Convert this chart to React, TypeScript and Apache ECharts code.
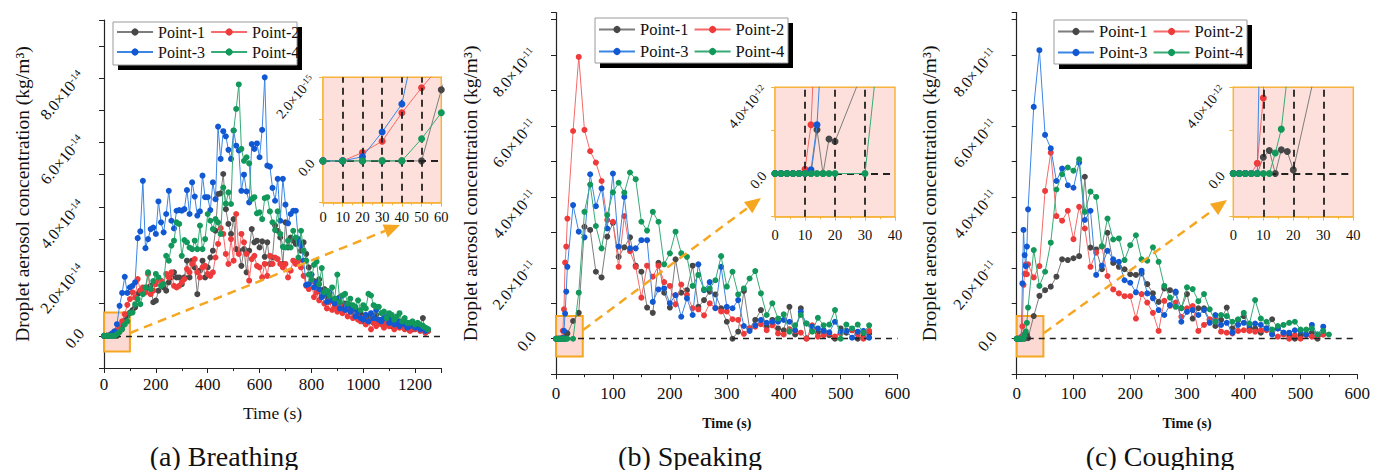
import React, { useEffect, useRef } from 'react';
import * as echarts from 'echarts';

const SERIF = 'Liberation Serif, Times New Roman, serif';
const SERIES_NAMES = ['Point-1', 'Point-2', 'Point-3', 'Point-4'];
const MARKER_COLORS = ['#474747', '#ee3a3a', '#1158d2', '#11985a'];
const LINE_COLORS = ['#7d7d7d', '#f56a6a', '#3b86e4', '#36ab76'];
const ORANGE = '#f6a722';
const BORDER = '#f7b43c';
const PINK = '#fde0db';

// (a) Breathing, time (s), values in 1e-14 kg/m3
const TIME_A = [
  0, 10, 20, 30, 40, 50, 60, 70, 80, 90,
  100, 110, 120, 130, 140, 150, 160, 170, 180, 190,
  200, 210, 220, 230, 240, 250, 260, 270, 280, 290,
  300, 310, 320, 330, 340, 350, 360, 370, 380, 390,
  400, 410, 420, 430, 440, 450, 460, 470, 480, 490,
  500, 510, 520, 530, 540, 550, 560, 570, 580, 590,
  600, 610, 620, 630, 640, 650, 660, 670, 680, 690,
  700, 710, 720, 730, 740, 750, 760, 770, 780, 790,
  800, 810, 820, 830, 840, 850, 860, 870, 880, 890,
  900, 910, 920, 930, 940, 950, 960, 970, 980, 990,
  1000, 1010, 1020, 1030, 1040, 1050, 1060, 1070, 1080, 1090,
  1100, 1110, 1120, 1130, 1140, 1150, 1160, 1170, 1180, 1190,
  1200, 1210, 1220, 1230, 1240, 1250,
];
const A_P1 = [
  0, 0, 0, 0, 0, 0, 0.17, 0.3, 0.47, 0.62,
  0.72, 0.8, 0.88, 1.3, 1.4, 1.35, 1.4, 1.5, 1.55, 1.04,
  1.09, 1.4, 1.7, 1.5, 1.4, 1.66, 1.81, 1.97, 1.81, 1.81,
  1.6, 1.81, 2.33, 1.81, 2.33, 2.12, 1.29, 2.02, 2.33, 1.81,
  2.12, 2.43, 2.64, 3.26, 4.4, 4.42, 5.02, 3.93, 3.47, 3.16,
  3.62, 2.69, 2.64, 2.17, 2.69, 1.97, 2.64, 3.31, 2.9, 2.95,
  2.74, 2.93, 2.45, 2.9, 2.23, 2.43, 3.42, 3.26, 3.05, 2.23,
  3.52, 2.74, 3.05, 2.95, 2.85, 3.0, 2.64, 2.9, 2.54, 2.12,
  1.9, 1.7, 1.6, 1.75, 1.3, 1.45, 1.2, 1.3, 1.1, 1.15,
  0.95, 1.2, 0.9, 1.0, 0.85, 0.95, 0.75, 0.85, 0.65, 0.7,
  0.45, 0.55, 0.6, 0.45, 0.5, 0.65, 0.4, 0.5, 0.35, 0.45,
  0.55, 0.3, 0.4, 0.35, 0.45, 0.3, 0.25, 0.35, 0.3, 0.2,
  0.35, 0.25, 0.3, 0.55, 0.1, 0.15,
];
const A_P2 = [
  0, 0, 0.02, 0.047, 0.115, 0.175, 0.23, 0.45, 0.67, 0.96,
  1.14, 1.35, 1.19, 1.76, 1.4, 1.5, 1.35, 1.92, 1.29, 1.4,
  1.6, 1.76, 1.7, 1.6, 1.92, 1.81, 1.97, 1.55, 1.5, 1.55,
  1.66, 1.76, 2.07, 1.97, 2.23, 2.38, 1.97, 1.81, 2.12, 2.17,
  1.92, 1.86, 1.97, 2.43, 2.85, 3.34, 3.16, 2.54, 2.23, 3.0,
  2.33, 3.78, 2.54, 3.16, 2.9, 2.54, 1.71, 2.38, 2.48, 2.17,
  2.12, 1.81, 2.23, 1.86, 2.48, 2.23, 2.43, 2.38, 2.23, 2.12,
  2.23, 1.81, 2.02, 2.33, 2.23, 2.33, 2.12, 1.86, 1.55, 1.45,
  1.7, 1.2, 1.35, 1.1, 1.25, 1.0, 0.85, 1.05, 0.8, 0.9,
  0.75, 0.95, 0.7, 0.8, 0.6, 0.75, 0.55, 0.65, 0.5, 0.45,
  0.55, 0.35, 0.45, 0.2, 0.4, 0.3, 0.45, 0.35, 0.25, 0.4,
  0.3, 0.35, 0.2, 0.3, 0.25, 0.35, 0.2, 0.3, 0.15, 0.25,
  0.2, 0.3, 0.15, 0.2, 0.1, 0.15,
];
const A_P3 = [
  0, 0, 0.01, 0.069, 0.136, 0.36, 0.93, 1.33, 1.83, 1.33,
  1.5, 1.55, 1.66, 3.03, 3.24, 4.81, 2.72, 3.0, 3.31, 3.36,
  3.16, 4.17, 3.52, 3.21, 3.78, 4.5, 3.57, 3.33, 3.88, 3.9,
  3.88, 3.93, 4.52, 3.78, 4.76, 4.32, 3.73, 3.86, 4.97, 4.3,
  4.3, 3.9, 4.76, 4.24, 6.49, 5.49, 6.35, 6.19, 5.77, 5.49,
  6.37, 5.9, 5.75, 4.5, 5.0, 4.48, 4.14, 5.95, 5.8, 5.97,
  5.54, 6.39, 8.02, 5.28, 5.25, 4.59, 4.19, 4.87, 3.57, 4.87,
  4.07, 3.49, 3.78, 3.88, 3.88, 2.95, 2.8, 2.33, 1.58, 1.6,
  1.9, 1.5, 1.65, 1.45, 1.2, 1.3, 1.05, 1.35, 1.1, 1.0,
  1.15, 0.85, 1.25, 0.8, 0.95, 0.75, 0.85, 0.6, 0.75, 0.55,
  0.5, 0.65, 0.45, 0.7, 0.55, 0.8, 0.5, 0.45, 0.55, 0.6,
  0.4, 0.5, 0.35, 0.45, 0.3, 0.4, 0.35, 0.25, 0.3, 0.4,
  0.25, 0.35, 0.2, 0.3, 0.15, 0.2,
];
const A_P4 = [
  0, 0, 0, 0, 0, 0.053, 0.115, 0.2, 0.35, 0.45,
  0.7, 0.72, 0.98, 1.14, 0.98, 1.29, 1.5, 1.97, 1.45, 1.7,
  1.92, 1.81, 1.55, 1.6, 2.48, 2.33, 2.8, 2.95, 3.52, 3.47,
  2.48, 2.97, 2.9, 2.74, 2.69, 2.95, 2.69, 3.42, 2.69, 3.0,
  3.78, 3.57, 3.31, 3.62, 3.52, 3.16, 4.6, 4.1, 4.45, 4.09,
  6.37, 7.04, 7.8, 5.8, 5.43, 5.54, 5.35, 4.24, 4.3, 3.8,
  3.83, 3.62, 4.27, 4.3, 3.86, 3.52, 3.28, 3.86, 3.16, 2.76,
  2.74, 2.95, 2.74, 3.26, 3.05, 2.43, 3.26, 2.64, 2.33, 1.9,
  1.75, 2.2, 2.3, 1.6, 2.1, 1.35, 1.4, 1.25, 1.5, 1.15,
  1.9, 1.05, 1.25, 1.3, 1.0, 1.15, 0.95, 0.9, 1.1, 0.8,
  0.95, 0.85, 1.3, 1.25, 0.95, 0.9, 0.9, 0.7, 0.75, 0.55,
  0.7, 0.65, 0.5, 0.6, 0.7, 0.45, 0.55, 0.4, 0.4, 0.45,
  0.35, 0.4, 0.35, 0.3, 0.25, 0.2,
];

// (b) Speaking and (c) Coughing, time (s), values in 1e-11 kg/m3
const TIME_BC = [
  0, 2, 4, 6, 8, 10, 12, 14, 16, 18, 20,
  30, 40, 50, 60, 70, 80, 90, 100, 110, 120,
  130, 140, 150, 160, 170, 180, 190, 200, 210, 220,
  230, 240, 250, 260, 270, 280, 290, 300, 310, 320,
  330, 340, 350, 360, 370, 380, 390, 400, 410, 420,
  430, 440, 450, 460, 470, 480, 490, 500, 510, 520,
  530, 540, 550,
];
const B_P1 = [
  0, 0, 0, 0, 0, 0, 0, 0.203, 0, 0.16, 0.149,
  0.5, 0.73, 3.16, 3.07, 1.89, 1.73, 2.88, 3.27, 2.31, 2.58,
  2.86, 2.06, 1.89, 0.88, 0.73, 2.14, 1.3, 0.88, 2.24, 1.3,
  1.37, 2.06, 0.9, 1.09, 1.33, 1.25, 0.86, 0.48, 0, 0.2,
  1.35, 0.29, 0.53, 0.81, 0.34, 0.53, 0.29, 0.24, 0.9, 0.12,
  0.86, 0.01, 0.24, 0.17, 0.24, 0.1, 0, 0.29, 0.17, 0.24,
  0, 0.06, 0.15,
];
const B_P2 = [
  0, 0, 0, 0, 0, 0.02, 0.226, 0.83, 2.15, 2.6, 3.39,
  5.86, 7.95, 5.89, 5.29, 4.97, 4.45, 3.35, 3.3, 2.03, 3.46,
  2.47, 2.03, 1.16, 2.06, 1.75, 2.06, 1.6, 1.49, 0.97, 1.53,
  1.24, 0.86, 0.83, 0.66, 1.0, 0.87, 0.77, 0.77, 0.55, 0.53,
  0.14, 0.29, 0.34, 0.41, 0.24, 0.38, 0.15, 0.12, 0.27, 0.22,
  0.17, 0, 0.38, 0.06, 0.1, 0.15, 0.06, 0.15, 0.22, 0.24,
  0.13, 0, 0.22,
];
const B_P3 = [
  0, 0, 0, 0, 0, 0, 0.017, 0.226, 0.71, 1.33, 2.03,
  3.77, 3.02, 2.86, 4.64, 3.74, 4.24, 3.11, 4.66, 2.6, 4.0,
  2.55, 2.55, 2.78, 2.78, 1.04, 1.39, 1.42, 1.0, 1.23, 0.62,
  1.14, 0.67, 2.1, 1.37, 1.6, 0.86, 2.03, 0.9, 0.86, 1.09,
  0.36, 0.22, 0.38, 0.53, 0.45, 0.48, 0.48, 0.53, 0.48, 0.24,
  0.76, 0.43, 0.34, 0.29, 0.22, 0.18, 0.48, 0.2, 0.22, 0.03,
  0.2, 0.22, 0.03,
];
const B_P4 = [
  0, 0, 0, 0, 0, 0, 0, 0, 0, 0, 0,
  0, 1.3, 3.58, 4.35, 3.18, 2.55, 3.49, 4.13, 4.4, 4.12,
  4.69, 4.5, 3.3, 3.05, 3.58, 3.3, 2.1, 2.41, 3.02, 2.41,
  2.31, 1.49, 1.8, 1.39, 1.42, 1.65, 2.33, 1.47, 1.89, 1.25,
  1.42, 1.7, 1.91, 1.28, 0.67, 1.0, 0.57, 0.69, 0.2, 0.38,
  0.67, 0.43, 0.2, 0.59, 0.38, 0.4, 0.81, 0, 0.4, 0.29,
  0.4, 0.17, 0.38,
];
const C_P1 = [
  0, 0, 0, 0, 0, 0.076, 0.107, 0, 0.11, 0.102, 0.017,
  0.64, 1.21, 1.37, 1.47, 1.75, 2.24, 2.22, 2.27, 2.33, 4.57,
  2.57, 2.52, 1.96, 2.99, 2.14, 2.03, 1.96, 1.82, 1.8, 1.84,
  1.54, 1.28, 1.04, 1.42, 1.37, 1.3, 0.86, 1.26, 0.57, 0.86,
  0.86, 0.53, 0.36, 0.53, 0.88, 0.29, 0.53, 0.64, 0.29, 0.29,
  0.17, 0.29, 0.55, 0.29, 0.17, 0.1, 0, 0.1, 0.12, 0.17,
  0, 0.12,
];
const C_P2 = [
  0, 0, 0, 0, 0.048, 0.35, 1.52, 1.83, 2.1, 1.82, 2.1,
  1.73, 2.05, 4.17, 5.25, 3.46, 3.33, 3.61, 2.81, 3.72, 3.11,
  2.03, 2.43, 2.6, 1.77, 1.39, 1.28, 1.2, 1.2, 0.57, 1.26,
  1.02, 0.73, 0.22, 1.07, 0.93, 1.02, 0.62, 0.86, 0.92, 0.22,
  0.39, 0.55, 0.57, 0.2, 0.17, 0.15, 0.22, 0.24, 0.22, 0.2,
  0.24, 0.24, 0.15, 0.06, 0.12, 0, 0.1, 0, 0.1, 0.06,
  0.06, 0.12,
];
const C_P3 = [
  0, 0, 0, 0, 0, 1.56, 3.07, 2.36, 2.05, 2.6, 3.65,
  6.54, 8.14, 5.75, 5.37, 4.45, 4.8, 4.33, 4.26, 4.97, 3.35,
  3.61, 1.8, 2.06, 2.48, 2.24, 2.17, 1.65, 1.58, 1.31, 1.92,
  1.28, 1.14, 0.81, 0.67, 0.95, 1.33, 0.48, 0.76, 0.81, 0.67,
  0.81, 0.45, 0.67, 0.39, 0.45, 0.17, 0.39, 0.45, 0.39, 0.43,
  0.39, 0.29, 0.12, 0.29, 0.17, 0.17, 0.24, 0.22, 0.12, 0.39,
  0.12, 0.34,
];
const C_P4 = [
  0, 0, 0, 0, 0, 0, 0, 0.095, 0.206, 0.45, 0.88,
  2.5, 1.49, 1.89, 2.71, 4.21, 4.64, 4.83, 4.74, 5.06, 3.58,
  4.15, 4.0, 2.61, 3.39, 2.8, 2.83, 2.22, 2.64, 2.92, 2.24,
  2.2, 2.58, 2.17, 1.49, 1.16, 0.9, 0.86, 1.45, 1.4, 1.06,
  1.26, 0.83, 0.48, 0.67, 0.64, 0.48, 0.55, 0.73, 0.43, 1.09,
  0.57, 0.48, 0.26, 0.36, 0.39, 0.45, 0.48, 0.26, 0.26, 0.29,
  0.12, 0.22, 0.12,
];

const PANEL_TITLES = ['(a) Breathing', '(b) Speaking', '(c) Coughing'];
const Y_NAME = 'Droplet aerosol concentration (kg/m³)';
const X_NAME = 'Time (s)';
const EXP_MAIN = ['-14', '-11', '-11'];
const EXP_INSET = ['-15', '-12', '-12'];
const INSET_TOP = [2, 4, 4];

const near = (a: number, b: number) => Math.abs(a - b) < 1e-9;

const richFor = (size: number, lh?: number) => ({
  m: { fontSize: size, fontFamily: SERIF, color: '#111', ...(lh ? { lineHeight: lh } : {}) },
  e: { fontSize: Math.round(size * 0.64), fontFamily: SERIF, color: '#111', verticalAlign: 'top' },
});

function mainYLabel(exp: string) {
  return (v: number) => {
    if (near(v, 0)) return '{m|0.0}';
    if (v > 0 && near(v % 2, 0) && v <= 8) return `{m|${v.toFixed(1)}×10}{e|${exp}}`;
    return '';
  };
}

function lineSeries(k: number, times: number[], vals: number[], axisIdx: number, size: number, extra: any = {}) {
  return {
    type: 'line',
    name: SERIES_NAMES[k],
    xAxisIndex: axisIdx,
    yAxisIndex: axisIdx,
    data: vals.map((v, i) => [times[i], v]),
    symbol: 'circle',
    symbolSize: size,
    showSymbol: true,
    itemStyle: { color: MARKER_COLORS[k] },
    lineStyle: { color: LINE_COLORS[k], width: 1 },
    emphasis: { disabled: true },
    clip: true,
    z: 3 + k,
    ...extra,
  };
}

function arrow(x1: number, y1: number, x2: number, y2: number) {
  const dx = x2 - x1, dy = y2 - y1;
  const L = Math.hypot(dx, dy);
  const ux = dx / L, uy = dy / L;
  const hl = 16, hw = 7;
  const bx = x2 - ux * hl, by = y2 - uy * hl;
  return [
    { type: 'line', z: 50, shape: { x1, y1, x2: bx, y2: by }, style: { stroke: ORANGE, lineWidth: 2.5, lineDash: [9, 6] } },
    { type: 'polygon', z: 50, shape: { points: [[x2, y2], [bx - uy * hw, by + ux * hw], [bx + uy * hw, by - ux * hw]] }, style: { fill: ORANGE } },
  ];
}

function legendBox(x: number, y: number, w: number, h: number) {
  return [
    { type: 'rect', z: 1, shape: { x: x + 5, y: y + 5, width: w, height: h }, style: { fill: '#000' } },
    { type: 'rect', z: 2, shape: { x, y, width: w, height: h }, style: { fill: '#fff', stroke: '#9a9a9a', lineWidth: 1 } },
  ];
}

function legendRows(left: number, top1: number, top2: number, fontSize: number) {
  const base = {
    orient: 'horizontal',
    left,
    itemWidth: 36,
    itemHeight: 9,
    itemGap: 5,
    padding: 0,
    z: 10,
    selectedMode: false,
    formatter: (name: string) => `{t|${name}}`,
    textStyle: {
      fontSize,
      fontFamily: SERIF,
      color: '#111',
      rich: { t: { fontSize, fontFamily: SERIF, color: '#111', lineHeight: 18 } },
    },
  };
  return [
    { ...base, top: top1, data: [SERIES_NAMES[0], SERIES_NAMES[1]] },
    { ...base, top: top2, data: [SERIES_NAMES[2], SERIES_NAMES[3]] },
  ];
}

const axisBlack = { lineStyle: { color: '#222', width: 1.2 } };
const tickBlack = { show: true, length: 5, lineStyle: { color: '#222', width: 1 } };

export default function App() {
  const ref = useRef<HTMLDivElement>(null);

  useEffect(() => {
    if (!ref.current) return;
    const chart = echarts.init(ref.current, undefined, { renderer: 'svg' });

    const grids = [
      { left: 104, top: 20, width: 337, height: 348 },
      { left: 556, top: 12.6, width: 341.6, height: 361.6 },
      { left: 1016.7, top: 12.6, width: 340.6, height: 361.6 },
      { left: 323, top: 77.3, width: 118.3, height: 125.4 },
      { left: 775, top: 87.3, width: 120, height: 129.4 },
      { left: 1233.3, top: 87.3, width: 120, height: 129.4 },
    ].map((g, i) => ({
      ...g,
      containLabel: false,
      outerBoundsMode: 'none',
      show: i >= 3,
      backgroundColor: i >= 3 ? PINK : 'transparent',
      borderColor: BORDER,
      borderWidth: 1.5,
      z: i >= 3 ? 1 : 0,
    }));

    const mainX = (idx: number, max: number, interval: number, labelMax: number, nameGap: number, nameSize: number, bold: boolean, margin: number) => ({
      type: 'value',
      gridIndex: idx,
      min: 0,
      max,
      interval,
      name: X_NAME,
      nameLocation: 'middle',
      nameGap,
      nameTextStyle: { fontSize: nameSize, fontFamily: SERIF, color: '#111', fontWeight: bold ? 'bold' : 'normal' },
      axisLine: { show: true, onZero: false, ...axisBlack },
      axisTick: tickBlack,
      minorTick: { show: true, splitNumber: 2, length: 3, lineStyle: { color: '#222' } },
      splitLine: { show: false },
      axisLabel: {
        fontSize: 17,
        fontFamily: SERIF,
        color: '#111',
        margin,
        rich: richFor(17),
        formatter: (v: number) => (v <= labelMax && near(v % interval, 0) ? `{m|${v}}` : ''),
      },
    });

    const insetX = (idx: number, max: number, margin: number) => ({
      type: 'value',
      gridIndex: idx,
      min: 0,
      max,
      interval: 10,
      axisLine: { show: true, onZero: false, lineStyle: { color: BORDER, width: 1.5 } },
      axisTick: { show: true, length: 4, lineStyle: { color: BORDER } },
      minorTick: { show: true, splitNumber: 2, length: 2.5, lineStyle: { color: BORDER } },
      splitLine: { show: false },
      axisLabel: {
        fontSize: 14.5,
        fontFamily: SERIF,
        color: '#111',
        margin,
        rich: richFor(14.5),
        formatter: (v: number) => `{m|${v}}`,
      },
    });

    const mainY = (idx: number, max: number, exp: string, nameGap: number) => ({
      type: 'value',
      gridIndex: idx,
      min: -1,
      max,
      interval: 1,
      name: Y_NAME,
      nameLocation: 'middle',
      nameGap,
      nameRotate: 90,
      nameTextStyle: { fontSize: 19.5, fontFamily: SERIF, color: '#111' },
      axisLine: { show: true, onZero: false, ...axisBlack },
      axisTick: tickBlack,
      splitLine: { show: false },
      axisLabel: {
        fontSize: 16,
        fontFamily: SERIF,
        color: '#111',
        rotate: 50,
        margin: 17,
        verticalAlign: 'bottom',
        rich: richFor(16, 16),
        formatter: mainYLabel(exp),
      },
    });

    const insetY = (idx: number, min: number, max: number, interval: number, topVal: number, exp: string) => ({
      type: 'value',
      gridIndex: idx,
      min,
      max,
      interval,
      axisLine: { show: true, onZero: false, lineStyle: { color: BORDER, width: 1.5 } },
      axisTick: { show: true, length: 4, lineStyle: { color: BORDER } },
      splitLine: { show: false },
      axisLabel: {
        fontSize: 14,
        fontFamily: SERIF,
        color: '#111',
        rotate: 50,
        margin: 11,
        rich: richFor(14),
        formatter: (v: number) =>
          near(v, 0) ? '{m|0.0}' : near(v, max) ? `{m|${topVal.toFixed(1)}×10}{e|${exp}}` : '',
      },
    });

    const xAxis = [
      mainX(0, 1300, 200, 1200, 36, 17.5, false, 8),
      mainX(1, 600, 100, 600, 42, 14, true, 11),
      mainX(2, 600, 100, 600, 42, 14, true, 11),
      insetX(3, 60, 7),
      insetX(4, 40, 11),
      insetX(5, 40, 11),
    ];
    const yAxis = [
      mainY(0, 9.8, EXP_MAIN[0], 72),
      mainY(1, 9.2, EXP_MAIN[1], 76),
      mainY(2, 9.2, EXP_MAIN[2], 77),
      insetY(3, -0.1, 0.2, 0.1, INSET_TOP[0], EXP_INSET[0]),
      insetY(4, -0.2, 0.4, 0.2, INSET_TOP[1], EXP_INSET[1]),
      insetY(5, -0.2, 0.4, 0.2, INSET_TOP[2], EXP_INSET[2]),
    ];

    const dashedMain = {
      symbol: 'none',
      silent: true,
      label: { show: false },
      lineStyle: { color: '#222', type: [6, 5], width: 1.4 },
      data: [{ yAxis: 0 }],
    };
    const zoomBox = (x1: number, y1: number, x2: number, y2: number) => ({
      silent: true,
      itemStyle: { color: 'rgba(251,206,196,0.75)', borderColor: ORANGE, borderWidth: 2 },
      data: [[{ xAxis: x1, yAxis: y1 }, { xAxis: x2, yAxis: y2 }]],
    });
    const insetLines = (xs: number[]) => ({
      symbol: 'none',
      silent: true,
      label: { show: false },
      lineStyle: { color: '#222', type: [7, 5], width: 1.8 },
      data: [{ yAxis: 0 }, ...xs.map((x) => ({ xAxis: x }))],
    });

    const panels = [
      { times: TIME_A, vals: [A_P1, A_P2, A_P3, A_P4] },
      { times: TIME_BC, vals: [B_P1, B_P2, B_P3, B_P4] },
      { times: TIME_BC, vals: [C_P1, C_P2, C_P3, C_P4] },
    ];
    const boxes = [zoomBox(0, -0.49, 100, 0.72), zoomBox(0, -0.5, 47, 0.64), zoomBox(0, -0.5, 47, 0.64)];
    const insetMarks = [insetLines([10, 20, 30, 40, 50]), insetLines([10, 20, 30]), insetLines([10, 20, 30])];

    const series: any[] = [];
    panels.forEach((p, pi) => {
      p.vals.forEach((vals, k) => {
        series.push(
          lineSeries(k, p.times, vals, pi, 6, k === 0 ? { markLine: dashedMain, markArea: boxes[pi] } : {})
        );
      });
    });
    panels.forEach((p, pi) => {
      p.vals.forEach((vals, k) => {
        series.push(lineSeries(k, p.times, vals, pi + 3, 7, k === 0 ? { markLine: insetMarks[pi] } : {}));
      });
    });

    const graphics: any[] = [
      ...legendBox(113, 22, 184, 43),
      ...legendBox(595, 18, 193, 45),
      ...legendBox(1054, 20, 193, 44),
      ...arrow(130, 333, 400, 225),
      ...arrow(583, 330, 761, 198),
      ...arrow(1044, 333, 1227, 200),
      ...PANEL_TITLES.map((t, i) => ({
        type: 'text',
        z: 20,
        x: [224, 690, 1160][i],
        y: 456,
        style: { text: t, fontSize: 28, fontFamily: SERIF, fill: '#111', align: 'center', verticalAlign: 'middle' },
      })),
    ];

    chart.setOption({
      animation: false,
      backgroundColor: '#fff',
      textStyle: { fontFamily: SERIF },
      grid: grids,
      xAxis,
      yAxis,
      legend: [
        ...legendRows(116, 24, 44, 16),
        ...legendRows(598, 21, 43, 16.5),
        ...legendRows(1057, 23, 44, 16.5),
      ],
      series,
      graphic: { elements: graphics },
    });

    return () => chart.dispose();
  }, []);

  return <div ref={ref} style={{ position: 'absolute', left: 0, top: 0, width: 1384, height: 470 }} />;
}
